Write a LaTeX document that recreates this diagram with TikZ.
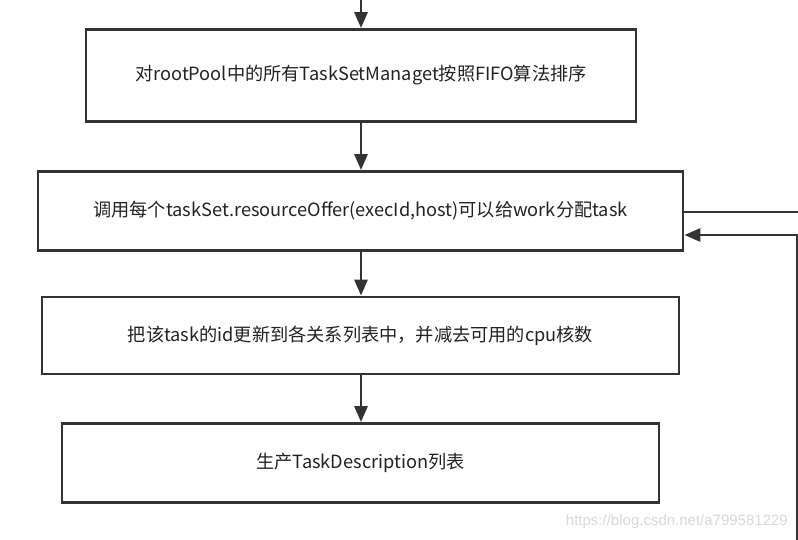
\documentclass[tikz,border=0pt]{standalone}
\usepackage{fontspec}
\setmainfont{Noto Sans CJK SC}
\newfontfamily\wmfont{Liberation Sans}
\usetikzlibrary{arrows.meta}
\definecolor{ln}{HTML}{333333}
\definecolor{tx}{HTML}{222222}
\definecolor{wm}{HTML}{D8D8D8}
\begin{document}
\begin{tikzpicture}[x=1pt,y=-1pt,
  box/.style={draw=ln,line width=2.8pt,rectangle,inner sep=0pt,text=tx,font=\fontsize{18.2}{20}\selectfont},
  conn/.style={draw=ln,line width=2.8pt,-{Triangle[length=16pt,width=13pt]}},
  plain/.style={draw=ln,line width=2.8pt}]
\useasboundingbox (0,0) rectangle (798,540);
\node[box,minimum width=550pt,minimum height=92pt] (b1) at (361,75.5) {对rootPool中的所有TaskSetManaget按照FIFO算法排序};
\node[box,minimum width=645pt,minimum height=79pt] (b2) at (360.5,211) {调用每个taskSet.resourceOffer(execId,host)可以给work分配task};
\node[box,minimum width=637pt,minimum height=77pt] (b3) at (360.5,335.5) {把该task的id更新到各关系列表中，并减去可用的cpu核数};
\node[box,minimum width=597pt,minimum height=79pt] (b4) at (360.5,463) {生产TaskDescription列表};
\coordinate (top) at (361,-2);
\coordinate (outR) at (800,212);
\coordinate (loopB) at (797,542);
\coordinate (loopT) at (797,235);
\coordinate (in2) at (b2.east |- loopT);
\node[text=wm,font=\wmfont\fontsize{15}{17}\selectfont,anchor=east,inner sep=0pt] (wm) at (788,522) {https://blog.csdn.net/a799581229};
\draw[conn] (top) -- (b1.north -| top);
\draw[conn] (b1.south -| top) -- (b2.north -| top);
\draw[conn] (b2.south -| top) -- (b3.north -| top);
\draw[conn] (b3.south -| top) -- (b4.north -| top);
\draw[plain] (b2.east |- outR) -- (outR);
\draw[conn] (loopB) -- (loopT) -- (in2);
\end{tikzpicture}
\end{document}
